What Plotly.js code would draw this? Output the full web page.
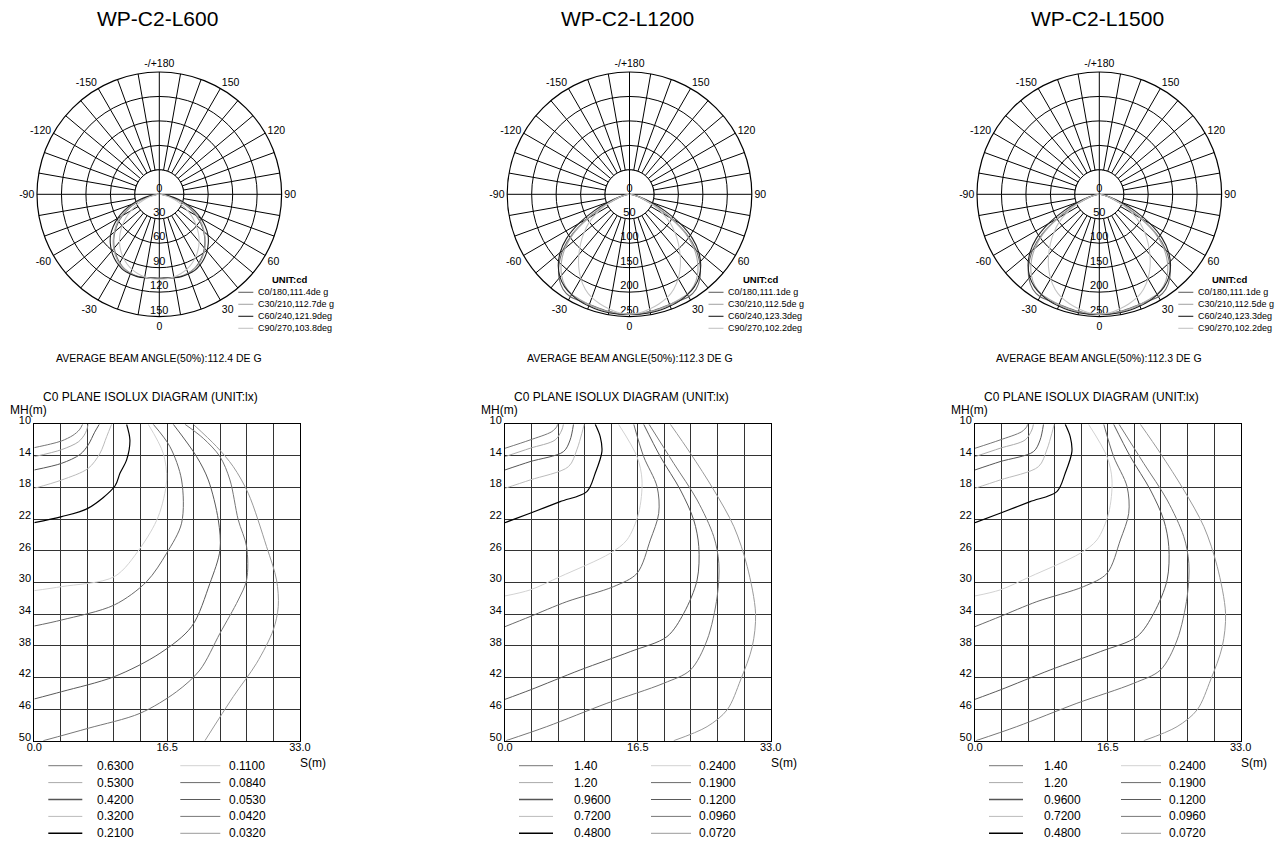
<!DOCTYPE html>
<html><head><meta charset="utf-8">
<script src="https://cdn.plot.ly/plotly-3.0.1.min.js"></script>
<style>html,body{margin:0;padding:0;background:#fff;}#chart{width:1287px;height:852px;}</style>
</head><body><div id="chart"></div>
<script>
// ================= DATA =================
const titles = ['WP-C2-L600', 'WP-C2-L1200', 'WP-C2-L1500'];
const beamTexts = ['AVERAGE BEAM ANGLE(50%):112.4 DE G', 'AVERAGE BEAM ANGLE(50%):112.3 DE G', 'AVERAGE BEAM ANGLE(50%):112.3 DE G'];

// polar: gamma angle (deg from nadir) and intensities (cd) per C-plane
const gammaDeg = [0, 5, 10, 15, 20, 25, 30, 35, 40, 45, 50, 55, 60, 65, 70, 75, 80, 85, 90];
const L600_C0  = [103, 103, 103.5, 104, 103, 101, 97, 92, 86, 79, 71, 62, 52, 41, 29, 18, 9, 3, 1];
const L600_C30 = [103, 103, 104, 104, 103, 101, 98, 93, 87, 80, 72, 64, 54, 43, 31, 20, 10, 4, 1];
const L600_C60 = [103, 103, 104, 104.5, 104, 103, 100, 96, 91, 85, 78, 69, 59, 48, 36, 24, 13, 5, 1];
const L600_C90 = [104, 104, 103, 101, 98, 94, 89, 83, 76, 68, 59, 50, 40, 30, 21, 13, 6, 2, 0.5];

const L1200_C0  = [245, 245, 243, 241, 240, 240, 242, 237, 224, 204, 178, 143, 98, 58, 31, 16, 8, 3, 1];
const L1200_C30 = [245, 245, 244, 242, 240, 238, 236, 229, 216, 197, 172, 140, 100, 62, 35, 18, 9, 3, 1];
const L1200_C60 = [245, 246, 246, 245, 243, 241, 237, 231, 221, 206, 185, 157, 120, 80, 45, 22, 10, 4, 1];
const L1200_C90 = [245, 243, 238, 232, 225, 214, 199, 181, 161, 141, 121, 101, 78, 55, 35, 18, 8, 3, 1];

const L1500_C0 = L1200_C0, L1500_C30 = L1200_C30, L1500_C60 = L1200_C60, L1500_C90 = L1200_C90;

const polarNames600  = ['C0/180,111.4de g', 'C30/210,112.7de g', 'C60/240,121.9deg', 'C90/270,103.8deg'];
const polarNames1200 = ['C0/180,111.1de g', 'C30/210,112.5de g', 'C60/240,123.3deg', 'C90/270,102.2deg'];
const polarNames1500 = ['C0/180,111.1de g', 'C30/210,112.5de g', 'C60/240,123.3deg', 'C90/270,102.2deg'];
const polarColors = ['#666666', '#a8a8a8', '#222222', '#c4c4c4'];

const radialTicks600  = [0, 30, 60, 90, 120, 150];
const radialTicks1200 = [0, 50, 100, 150, 200, 250];
const angleLabelVals = [0, 30, 60, 90, 120, 150, 180, 210, 240, 270, 300, 330];
const angleLabelText = ['0', '30', '60', '90', '120', '150', '-/+180', '-150', '-120', '-90', '-60', '-30'];

// isolux: contour lines as [S(m), MH(m)] points
const isoLevels600  = ['0.6300', '0.5300', '0.4200', '0.3200', '0.2100', '0.1100', '0.0840', '0.0530', '0.0420', '0.0320'];
const isoLevels1200 = ['1.40', '1.20', '0.9600', '0.7200', '0.4800', '0.2400', '0.1900', '0.1200', '0.0960', '0.0720'];
const isoLevels1500 = ['1.40', '1.20', '0.9600', '0.7200', '0.4800', '0.2400', '0.1900', '0.1200', '0.0960', '0.0720'];
const isoColors = ['#777777', '#aaaaaa', '#555555', '#bbbbbb', '#000000', '#d2d2d2', '#6a6a6a', '#5a5a5a', '#777777', '#9a9a9a'];

const L600_iso0630 = [[0, 12.95], [2, 12.5], [3.4, 12.1], [4.8, 11.4], [5.6, 10.7], [6.0, 10]];
const L600_iso0530 = [[0, 14.09], [3.4, 13.2], [5.5, 12.2], [6.3, 11.2], [6.6, 10.4], [6.7, 10]];
const L600_iso0420 = [[0, 15.77], [3.4, 14.93], [5.7, 13.8], [6.7, 12.6], [7.5, 11.0], [8.07, 10]];
const L600_iso0320 = [[0, 18.09], [3.4, 17.04], [6.7, 15.57], [8.16, 13.67], [8.99, 11.56], [9.6, 10]];
const L600_iso0210 = [[0, 22.43], [3.4, 21.67], [6.7, 20.6], [10.02, 17.8], [10.64, 16.2], [11.47, 14.5], [11.88, 12.0], [11.47, 10]];
const L600_iso0110 = [[0, 31.03], [3.4, 30.52], [9.94, 29.26], [13.13, 25.68], [15.4, 21.67], [16.44, 17.04], [16.02, 13.67], [14.16, 10]];
const L600_iso0084 = [[0, 35.5], [3.4, 34.74], [9.94, 32.84], [13.95, 29.89], [16.44, 26.3], [18.3, 22.5], [18.3, 17.04], [16.85, 12.82], [14.78, 10]];
const L600_iso0053 = [[0, 44.72], [3.4, 43.8], [9.94, 41.9], [15.61, 38.95], [19.54, 35.58], [21.82, 30.1], [23.07, 25.89], [22.86, 22.09], [21.62, 17.04], [20.17, 14.09], [17.27, 10]];
const L600_iso0042 = [[1.12, 50], [6.7, 48.43], [13.13, 46.54], [17.68, 43.8], [20.58, 41.06], [23.07, 36.42], [25.34, 32.21], [26.38, 29.68], [26.38, 25.47], [25.34, 22.09], [24.31, 17.04], [23.07, 14.09], [20.99, 11.77], [18.72, 10]];
const L600_iso0032 = [[19.75, 10], [22.65, 12.82], [24.72, 15.35], [26.58, 18.72], [28.86, 25.47], [30.1, 29.68], [30.31, 33.05], [29.69, 36], [27.62, 40.2], [24.72, 44.43], [21.2, 50]];

const L1200_iso140  = [[0, 13.03], [3.11, 11.98], [5.81, 10.93], [6.43, 10.3], [6.52, 10]];
const L1200_iso120  = [[0, 14.09], [3.11, 13.03], [6.23, 11.98], [7.06, 10.72], [7.26, 10]];
const L1200_iso096  = [[0, 15.77], [3.11, 14.72], [7.26, 13.46], [8.09, 11.98], [8.51, 10]];
const L1200_iso072  = [[0, 18.09], [3.11, 17.04], [7.89, 15.35], [8.92, 13.24], [9.55, 11.14], [9.84, 10]];
const L1200_iso048  = [[0, 22.43], [3.11, 21.25], [6.85, 19.78], [10.17, 18.51], [11.21, 16.19], [12.04, 13.46], [11.83, 11.56], [11.21, 10]];
const L1200_iso024  = [[0, 31.7], [3.11, 30.94], [6.85, 29.26], [13.08, 26.3], [15.15, 24.62], [16.6, 21.25], [17.02, 17.04], [16.4, 14.09], [14.11, 10]];
const L1200_iso019  = [[0, 35.58], [3.11, 34.31], [7.68, 32.42], [13.49, 30.52], [16.4, 28.84], [18.06, 24.62], [19.1, 21.25], [18.89, 17.88], [17.23, 14.09], [16.0, 10]];
const L1200_iso012  = [[0, 44.77], [3.11, 43.59], [9.34, 41.06], [15.57, 38.74], [20.13, 36.84], [22.21, 33.89], [23.87, 29.68], [24.08, 25.47], [23.45, 22.1], [21.79, 18.3], [19.3, 14.09], [17.23, 10]];
const L1200_iso0096 = [[0.1, 50], [5.19, 48.22], [12.66, 45.27], [19.72, 42.74], [23.04, 41.06], [25.11, 37.27], [26.36, 31.79], [26.57, 27.57], [25.94, 24.2], [23.87, 19.57], [20.96, 14.93], [17.9, 10]];
const L1200_iso0072 = [[20.55, 10], [23.04, 13.67], [25.94, 18.3], [28.44, 22.94], [30.1, 27.99], [31.13, 33.89], [30.72, 38.1], [29.27, 42.32], [27.6, 46.1], [25.11, 48.22], [20.96, 50]];
const L1500_iso = [L1200_iso140, L1200_iso120, L1200_iso096, L1200_iso072, L1200_iso048, L1200_iso024, L1200_iso019, L1200_iso012, L1200_iso0096, L1200_iso0072];

const mhTicks = [10, 14, 18, 22, 26, 30, 34, 38, 42, 46, 50];
const sTickVals = [0, 16.5, 33];
const sTickText = ['0.0', '16.5', '33.0'];

// ================= LAYOUT GEOMETRY =================
const W = 1287, H = 852;
const FONT = 'Liberation Sans, Arial, Helvetica, sans-serif';
const fx = x => x / W, fy = y => 1 - y / H;
const polarCx = [159.3, 629.5, 1099.3], polarCy = 194.3, polarR = 122.3;
const isoLeft = [34.3, 505, 975], isoW = 265.6, isoTop = 424.3, isoBottom = 740.7;
const isoTextOff = [60.7, 66.7, 66.7];

const cols = [
  {pol: [L600_C0, L600_C30, L600_C60, L600_C90], names: polarNames600, rt: radialTicks600,
   iso: [L600_iso0630, L600_iso0530, L600_iso0420, L600_iso0320, L600_iso0210, L600_iso0110, L600_iso0084, L600_iso0053, L600_iso0042, L600_iso0032], lev: isoLevels600},
  {pol: [L1200_C0, L1200_C30, L1200_C60, L1200_C90], names: polarNames1200, rt: radialTicks1200,
   iso: [L1200_iso140, L1200_iso120, L1200_iso096, L1200_iso072, L1200_iso048, L1200_iso024, L1200_iso019, L1200_iso012, L1200_iso0096, L1200_iso0072], lev: isoLevels1200},
  {pol: [L1500_C0, L1500_C30, L1500_C60, L1500_C90], names: polarNames1500, rt: radialTicks1200,
   iso: L1500_iso, lev: isoLevels1500}
];

const gridAngles = []; for (let a = 0; a < 360; a += 10) gridAngles.push(a);
const gridAngleText = gridAngles.map(a => { const i = angleLabelVals.indexOf(a); return i >= 0 ? angleLabelText[i] : ''; });

function mirror(vals) {
  const th = [], r = [];
  for (let i = gammaDeg.length - 1; i > 0; i--) { th.push(-gammaDeg[i]); r.push(vals[i]); }
  for (let i = 0; i < gammaDeg.length; i++) { th.push(gammaDeg[i]); r.push(vals[i]); }
  return {th, r};
}

const traces = [];
const layout = {
  width: W, height: H, margin: {l: 0, r: 0, t: 0, b: 0},
  paper_bgcolor: '#fff', plot_bgcolor: '#fff', showlegend: false,
  font: {family: FONT, color: '#000'},
  annotations: [], shapes: []
};

cols.forEach((c, k) => {
  const sub = k === 0 ? 'polar' : 'polar' + (k + 1);
  const cx = polarCx[k];
  const ring1 = c.rt[1], rmax = c.rt[c.rt.length - 1];
  layout[sub] = {
    domain: {x: [fx(cx - polarR), fx(cx + polarR)], y: [fy(polarCy + polarR), fy(polarCy - polarR)]},
    bgcolor: 'rgba(0,0,0,0)',
    angularaxis: {rotation: -90, direction: 'counterclockwise', tickmode: 'array', tickvals: gridAngles, ticktext: gridAngleText,
      showgrid: true, gridcolor: '#000', gridwidth: 1, showline: true, linecolor: '#000', linewidth: 1.2, ticks: '',
      tickfont: {size: 10.5, color: '#000', family: FONT}},
    radialaxis: {range: [0, rmax], tickmode: 'array', tickvals: c.rt.slice(1), showticklabels: false, ticks: '',
      showline: false, gridcolor: '#000', gridwidth: 1}
  };
  // white centre disc (inner ring) and axis cross through the centre
  const dth = [], dr = [];
  for (let a = 0; a <= 360; a += 5) { dth.push(a); dr.push(ring1); }
  traces.push({type: 'scatterpolar', subplot: sub, mode: 'lines', theta: dth, r: dr, fill: 'toself', fillcolor: '#fff',
    line: {color: '#000', width: 1}, hoverinfo: 'skip'});
  traces.push({type: 'scatterpolar', subplot: sub, mode: 'lines', r: [ring1, 0, ring1, null, ring1, 0, ring1],
    theta: [0, 0, 180, null, 90, 90, 270], line: {color: '#000', width: 1}, hoverinfo: 'skip'});
  // radial labels
  traces.push({type: 'scatterpolar', subplot: sub, mode: 'text', r: c.rt, theta: c.rt.map(() => 0),
    text: c.rt.map(String), textposition: 'top center', textfont: {size: 11, color: '#000', family: FONT}, hoverinfo: 'skip'});
  // intensity curves
  c.pol.forEach((vals, j) => {
    const m = mirror(vals);
    traces.push({type: 'scatterpolar', subplot: sub, mode: 'lines', theta: m.th, r: m.r,
      line: {color: polarColors[j], width: 1.1, shape: 'spline', smoothing: 0.8}, name: c.names[j]});
  });
  // titles & texts
  layout.annotations.push({xref: 'paper', yref: 'paper', x: fx(cx - 2), y: fy(18.5), text: titles[k], showarrow: false,
    xanchor: 'center', yanchor: 'middle', font: {size: 21, family: FONT}});
  layout.annotations.push({xref: 'paper', yref: 'paper', x: fx(cx + 131), y: fy(279.5), text: '<b>UNIT:cd</b>', showarrow: false,
    xanchor: 'center', yanchor: 'middle', font: {size: 9.5, family: FONT}});
  c.names.forEach((nm, j) => {
    const yy = 292.3 + 12 * j;
    layout.shapes.push({type: 'line', xref: 'paper', yref: 'paper', x0: fx(cx + 79), x1: fx(cx + 94), y0: fy(yy), y1: fy(yy),
      line: {color: polarColors[j], width: 1.1}});
    layout.annotations.push({xref: 'paper', yref: 'paper', x: fx(cx + 96.5), y: fy(yy), text: nm, showarrow: false,
      xanchor: 'left', yanchor: 'middle', font: {size: 9, family: FONT}});
  });
  layout.annotations.push({xref: 'paper', yref: 'paper', x: fx(cx), y: fy(358.3), text: beamTexts[k], showarrow: false,
    xanchor: 'center', yanchor: 'middle', font: {size: 10.5, family: FONT}});

  // ---- isolux ----
  const xa = k === 0 ? 'xaxis' : 'xaxis' + (k + 1), ya = k === 0 ? 'yaxis' : 'yaxis' + (k + 1);
  const xs = k === 0 ? 'x' : 'x' + (k + 1), ys = k === 0 ? 'y' : 'y' + (k + 1);
  const L = isoLeft[k];
  layout[xa] = {domain: [fx(L), fx(L + isoW)], anchor: ys, range: [0, 33], tickmode: 'array', tickvals: sTickVals, ticktext: sTickText,
    showgrid: true, gridcolor: '#333', gridwidth: 1, zeroline: false, showline: true, mirror: true, linecolor: '#000', linewidth: 1,
    ticks: '', ticklabelstandoff: -4, tickfont: {size: 11, family: FONT},
    minor: {dtick: 3.3, tick0: 0, showgrid: true, gridcolor: '#333', gridwidth: 1}, fixedrange: true};
  layout[ya] = {domain: [fy(isoBottom), fy(isoTop)], anchor: xs, range: [50, 10], tickmode: 'array', tickvals: mhTicks,
    showgrid: true, gridcolor: '#333', gridwidth: 1, zeroline: false, showline: true, mirror: true, linecolor: '#000', linewidth: 1,
    ticks: '', tickfont: {size: 11, family: FONT}, ticklabelshift: 4, fixedrange: true};
  c.iso.forEach((pts, j) => {
    traces.push({type: 'scatter', xaxis: xs, yaxis: ys, mode: 'lines', x: pts.map(p => p[0]), y: pts.map(p => p[1]),
      line: {color: isoColors[j], width: j === 4 ? 1.2 : 1, shape: 'spline', smoothing: 0.9}, name: c.lev[j]});
  });
  layout.annotations.push({xref: 'paper', yref: 'paper', x: fx(L + 7), y: fy(396.5), text: 'C0 PLANE ISOLUX DIAGRAM (UNIT:lx)', showarrow: false,
    xanchor: 'left', yanchor: 'middle', font: {size: 12, family: FONT}});
  layout.annotations.push({xref: 'paper', yref: 'paper', x: fx(L - 6), y: fy(410), text: 'MH(m)', showarrow: false,
    xanchor: 'center', yanchor: 'middle', font: {size: 12, family: FONT}});
  layout.annotations.push({xref: 'paper', yref: 'paper', x: fx(L + isoW + 13), y: fy(763), text: 'S(m)', showarrow: false,
    xanchor: 'center', yanchor: 'middle', font: {size: 12, family: FONT}});
  c.lev.forEach((lv, j) => {
    const colIdx = j < 5 ? 0 : 1, row = j % 5;
    const yy = 765.7 + 16.9 * row;
    const x0 = colIdx === 0 ? L + 14 : L + 146, x1 = colIdx === 0 ? L + 48 : L + 186;
    const xt = colIdx === 0 ? L + isoTextOff[k] : L + 192.4;
    layout.shapes.push({type: 'line', xref: 'paper', yref: 'paper', x0: fx(x0), x1: fx(x1), y0: fy(yy), y1: fy(yy),
      line: {color: isoColors[j], width: (j === 2 || j === 4) ? 1.4 : 1}});
    layout.annotations.push({xref: 'paper', yref: 'paper', x: fx(xt), y: fy(yy), text: lv, showarrow: false,
      xanchor: 'left', yanchor: 'middle', font: {size: 12, family: FONT}});
  });
});

Plotly.newPlot('chart', traces, layout, {staticPlot: true, displayModeBar: false});
</script>
</body></html>
